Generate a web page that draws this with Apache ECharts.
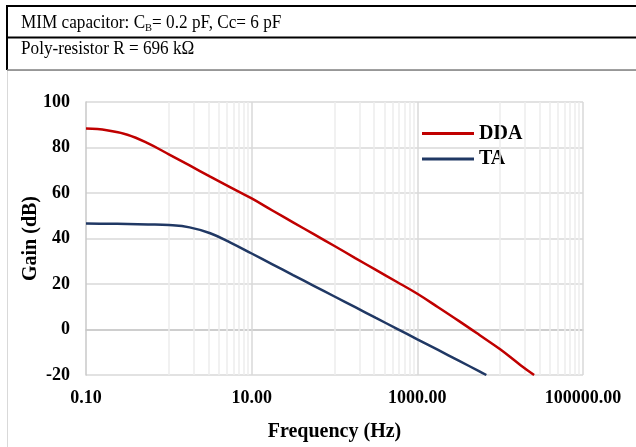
<!DOCTYPE html>
<html>
<head>
<meta charset="utf-8">
<script src="https://cdn.jsdelivr.net/npm/echarts@6/dist/echarts.min.js"></script>
<style>
html,body{margin:0;padding:0;background:#fff;}
#chart{width:636px;height:447px;}
</style>
</head>
<body>
<div id="chart"></div>
<script>
// ---- data ----
const ddaFreq = [0.1, 0.178, 0.316, 0.562, 1, 1.78, 3.16, 5.62, 10, 17.8, 31.6, 56.2, 100, 178, 316, 562, 1000, 1780, 3160, 5620, 10000, 17800, 25700];
const ddaGain = [88.3, 87.6, 85.6, 81.8, 77.0, 72.1, 67.2, 62.4, 57.6, 52.3, 47.1, 41.9, 36.7, 31.4, 26.2, 21.0, 15.7, 9.8, 3.8, -2.4, -8.7, -15.8, -20.0];
const taFreq = [0.1, 0.178, 0.316, 0.562, 1, 1.78, 3.16, 5.62, 10, 17.8, 31.6, 56.2, 100, 178, 316, 562, 1000, 1780, 3160, 5620, 6810];
const taGain = [46.6, 46.5, 46.4, 46.2, 45.9, 44.9, 42.3, 38.1, 33.4, 28.65, 23.9, 19.2, 14.5, 9.8, 5.1, 0.4, -4.3, -9.0, -13.7, -18.4, -20.0];
const seriesNames = ['DDA', 'TA'];
const xLabelTicks = [0.1, 10, 1000, 100000];
const xMajorGrid = [10, 1000, 100000];
const xMinorGrid = [1, 2, 3, 4, 5, 6, 7, 8, 9, 100, 200, 300, 400, 500, 600, 700, 800, 900, 10000, 20000, 30000, 40000, 50000, 60000, 70000, 80000, 90000];
const yMin = -20, yMax = 100, yStep = 20;
const headerLine1 = ['MIM capacitor: C', 'B', '= 0.2 pF, Cc= 6 pF'];
const headerLine2 = 'Poly-resistor R = 696 kΩ';

const FONT = '"Liberation Serif", "Times New Roman", serif';
const chart = echarts.init(document.getElementById('chart'), null, {renderer: 'canvas'});

function pairs(xs, ys) { return xs.map((x, i) => [x, ys[i]]); }
function isLabelTick(v) {
  return xLabelTicks.some(t => Math.abs(Math.log10(v) - Math.log10(t)) < 1e-6);
}

const option = {
  backgroundColor: '#ffffff',
  animation: false,
  textStyle: {fontFamily: FONT},
  graphic: [
    {type: 'rect', shape: {x: 7.5, y: 70.5, width: 700, height: 500}, style: {fill: '#fff', stroke: '#d9d9d9', lineWidth: 1}, z: -10},
    {type: 'line', shape: {x1: 6, y1: 6, x2: 640, y2: 6}, style: {stroke: '#000', lineWidth: 2}},
    {type: 'line', shape: {x1: 6, y1: 37.5, x2: 640, y2: 37.5}, style: {stroke: '#000', lineWidth: 2}},
    {type: 'line', shape: {x1: 7, y1: 5, x2: 7, y2: 70}, style: {stroke: '#000', lineWidth: 2}},
    {type: 'line', shape: {x1: 7, y1: 70, x2: 640, y2: 70}, style: {stroke: '#808080', lineWidth: 1.5}},
    {type: 'text', x: 21, y: 12, scaleX: 0.955,
      style: {
        text: '{m|' + headerLine1[0] + '}{s|' + headerLine1[1] + '}{m|' + headerLine1[2] + '}',
        rich: {
          m: {fontFamily: FONT, fontSize: 18, fill: '#000', lineHeight: 22, verticalAlign: 'middle'},
          s: {fontFamily: FONT, fontSize: 11, fill: '#000', lineHeight: 22, verticalAlign: 'bottom'}
        }
      }
    },
    {type: 'text', x: 21, y: 39.5, scaleX: 0.955,
      style: {text: headerLine2, fontFamily: FONT, fontSize: 18, fill: '#000', lineHeight: 20}
    }
  ],
  grid: {left: 86, right: 53, top: 102, bottom: 70, containLabel: false},
  legend: {
    data: seriesNames,
    orient: 'vertical',
    left: 422, top: 123.5, padding: 0,
    icon: 'rect',
    itemWidth: 52, itemHeight: 3,
    itemGap: 5.5,
    textStyle: {fontFamily: FONT, fontSize: 20, fontWeight: 'bold', color: '#000'}
  },
  xAxis: {
    type: 'log', logBase: 10, min: 0.1, max: 100000, splitNumber: 6,
    name: 'Frequency (Hz)', nameLocation: 'middle', nameGap: 47, nameMoveOverlap: false,
    nameTextStyle: {fontFamily: FONT, fontSize: 20, fontWeight: 'bold', color: '#000'},
    axisLine: {show: true, lineStyle: {color: '#c8c8c8', width: 1.5}},
    axisTick: {show: false},
    splitLine: {show: false},
    axisLabel: {
      margin: 14, fontFamily: FONT, fontSize: 18, fontWeight: 'bold', color: '#000',
      formatter: v => isLabelTick(v) ? Number(v).toFixed(2) : ''
    }
  },
  yAxis: {
    type: 'value', min: yMin, max: yMax, interval: yStep,
    name: 'Gain (dB)', nameLocation: 'middle', nameGap: 45, nameMoveOverlap: false,
    nameTextStyle: {fontFamily: FONT, fontSize: 20, fontWeight: 'bold', color: '#000'},
    axisLine: {show: true, lineStyle: {color: '#c8c8c8', width: 1.5}},
    axisTick: {show: false},
    splitLine: {show: true, lineStyle: {color: '#d9d9d9', width: 1.5}},
    axisLabel: {margin: 16, fontFamily: FONT, fontSize: 18, fontWeight: 'bold', color: '#000'}
  },
  series: [
    {
      name: '_grid', type: 'line', data: [], z: 1, silent: true,
      markLine: {
        silent: true, symbol: 'none', label: {show: false}, animation: false,
        data: xMinorGrid.map(v => ({xAxis: v, lineStyle: {color: '#ededed', width: 1.5, type: 'solid'}}))
          .concat(xMajorGrid.map(v => ({xAxis: v, lineStyle: {color: '#d9d9d9', width: 1.5, type: 'solid'}})))
      }
    },
    {
      name: seriesNames[0], type: 'line', data: pairs(ddaFreq, ddaGain), z: 5,
      smooth: 0.4, showSymbol: false, symbol: 'none',
      lineStyle: {color: '#C00000', width: 2.5}, itemStyle: {color: '#C00000'}
    },
    {
      name: seriesNames[1], type: 'line', data: pairs(taFreq, taGain), z: 5,
      smooth: 0.4, showSymbol: false, symbol: 'none',
      lineStyle: {color: '#203864', width: 2.5}, itemStyle: {color: '#203864'}
    }
  ]
};
chart.setOption(option);
</script>
</body>
</html>
